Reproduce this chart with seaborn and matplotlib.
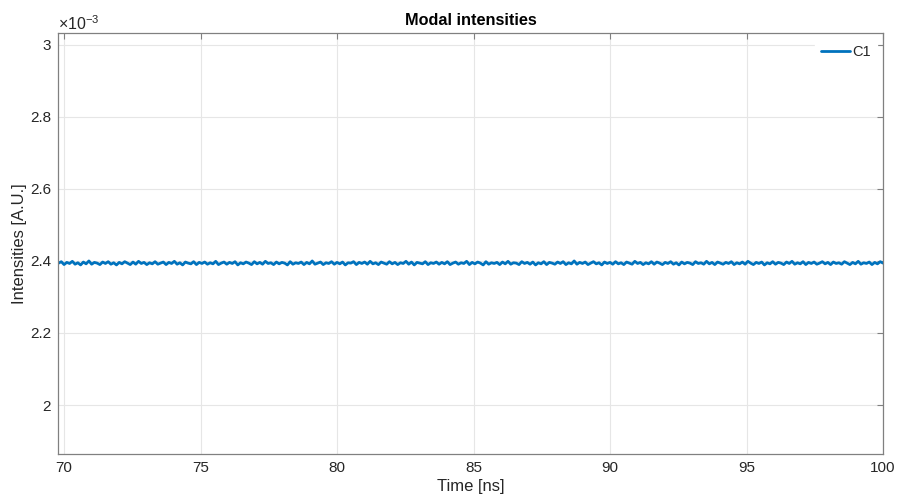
import numpy as np
import pandas as pd
import matplotlib
matplotlib.use("Agg")
import matplotlib.pyplot as plt
import seaborn as sns

t_start, t_end = 69.8, 100.0
intensity_micro = [
    2394, 2398, 2390, 2396, 2393, 2399, 2391, 2395, 2389, 2397, 2392, 2400, 2391, 2396, 2394, 2390, 2397, 2393, 2398, 2391,
    2395, 2389, 2396, 2392, 2398, 2394, 2390, 2397, 2391, 2399, 2393, 2396, 2390, 2395, 2392, 2398, 2391, 2394, 2397, 2390,
    2396, 2393, 2399, 2391, 2395, 2389, 2397, 2394, 2392, 2398, 2390, 2396, 2393, 2397, 2391, 2395, 2392, 2399, 2390, 2394,
    2397, 2391, 2396, 2393, 2398, 2389, 2395, 2392, 2397, 2394, 2390, 2398, 2392, 2396, 2391, 2399, 2393, 2395, 2390, 2397,
    2392, 2396, 2394, 2389, 2398, 2391, 2395, 2393, 2397, 2390, 2396, 2392, 2400, 2391, 2394, 2397, 2390, 2395, 2393, 2398,
    2391, 2396, 2392, 2397, 2389, 2395, 2394, 2398, 2390, 2396, 2393, 2397, 2391, 2399, 2392, 2395, 2390, 2397, 2394, 2391,
    2398, 2392, 2396, 2390, 2395, 2393, 2399, 2391, 2397, 2389, 2396, 2394, 2392, 2398, 2390, 2395, 2393, 2397, 2391, 2396,
    2392, 2398, 2390, 2394, 2397, 2391, 2395, 2393, 2399, 2390, 2396, 2392, 2397, 2394, 2389, 2398, 2391, 2395, 2393, 2396,
    2390, 2397, 2392, 2399, 2391, 2395, 2394, 2390, 2398, 2393, 2396, 2391, 2397, 2389, 2395, 2392, 2398, 2390, 2396, 2394,
    2391, 2397, 2393, 2398, 2390, 2395, 2392, 2400, 2391, 2396, 2393, 2397, 2390, 2394, 2398, 2392, 2395, 2389, 2397, 2393,
    2396, 2391, 2398, 2392, 2395, 2390, 2397, 2394, 2391, 2399, 2393, 2396, 2390, 2395, 2392, 2398, 2391, 2397, 2394, 2390,
    2396, 2393, 2398, 2391, 2395, 2389, 2397, 2392, 2396, 2394, 2390, 2398, 2393, 2395, 2391, 2399, 2392, 2396, 2390, 2397,
    2394, 2391, 2396, 2393, 2398, 2390, 2395, 2392, 2397, 2391, 2399, 2394, 2390, 2396, 2393, 2397, 2389, 2395, 2392, 2398,
    2391, 2396, 2394, 2390, 2397, 2393, 2399, 2391, 2395, 2392, 2398, 2390, 2396, 2393, 2397, 2391, 2394, 2398, 2392, 2396,
    2390, 2397, 2393, 2395, 2391, 2398, 2394, 2390, 2396, 2392, 2399, 2391, 2395, 2393, 2397, 2390, 2396, 2392, 2398, 2394,
]
series_name = "C1"
x_ticks = [70, 75, 80, 85, 90, 95, 100]
y_ticks = [2.0e-3, 2.2e-3, 2.4e-3, 2.6e-3, 2.8e-3, 3.0e-3]
y_tick_labels = ["2", "2.2", "2.4", "2.6", "2.8", "3"]

intensity = np.array(intensity_micro) * 1e-6
time = np.linspace(t_start, t_end, len(intensity))
df = pd.DataFrame({"Time": time, "Intensity": intensity, "Series": series_name})

sns.set_theme(style="white")
plt.rcParams["font.family"] = ["Liberation Sans", "DejaVu Sans"]
plt.rcParams["mathtext.fontset"] = "custom"
plt.rcParams["mathtext.rm"] = "Liberation Sans"

fig = plt.figure(figsize=(9.01, 5.04), dpi=100)
ax = fig.add_axes([58 / 901, 1 - 454 / 504, (883 - 58) / 901, (454 - 33) / 504])

sns.lineplot(data=df, x="Time", y="Intensity", hue="Series", palette=["#0072BD"],
             linewidth=2.0, ax=ax, estimator=None, sort=False)

ax.set_xlim(69.78, 100)
ax.set_ylim(1.864e-3, 3.033e-3)
ax.set_xticks(x_ticks)
ax.set_xticklabels([str(v) for v in x_ticks])
ax.set_yticks(y_ticks)
ax.set_yticklabels(y_tick_labels)
ax.grid(True, color="#e6e6e6", linewidth=0.8)
ax.set_axisbelow(True)

txt = "#262626"
for s in ax.spines.values():
    s.set_color("#808080")
    s.set_linewidth(0.9)
ax.tick_params(direction="in", length=4, width=0.8, color="#808080",
               top=True, right=True, labelsize=11, labelcolor=txt, pad=5)

ax.text(0.0, 1.0, r"$\times10^{-3}$", transform=ax.transAxes, ha="left", va="bottom",
        fontsize=11.5, color=txt)

ax.set_xlabel("Time [ns]", fontsize=12, color=txt, labelpad=3)
ax.set_ylabel("Intensities [A.U.]", fontsize=12, color=txt)
ax.yaxis.set_label_coords(-0.037, 0.5)
ax.set_title("Modal intensities", fontsize=11.7, fontweight="bold", color="black", pad=6)

leg = ax.legend(loc="upper right", frameon=True, fontsize=10.5, handlelength=2.0,
                borderaxespad=0.4, handletextpad=0.2)
leg.get_frame().set_edgecolor("white")
leg.get_frame().set_facecolor("white")
leg.get_frame().set_alpha(1.0)
leg.get_frame().set_boxstyle("square", pad=0.0)

fig.savefig("out.png", dpi=100)
